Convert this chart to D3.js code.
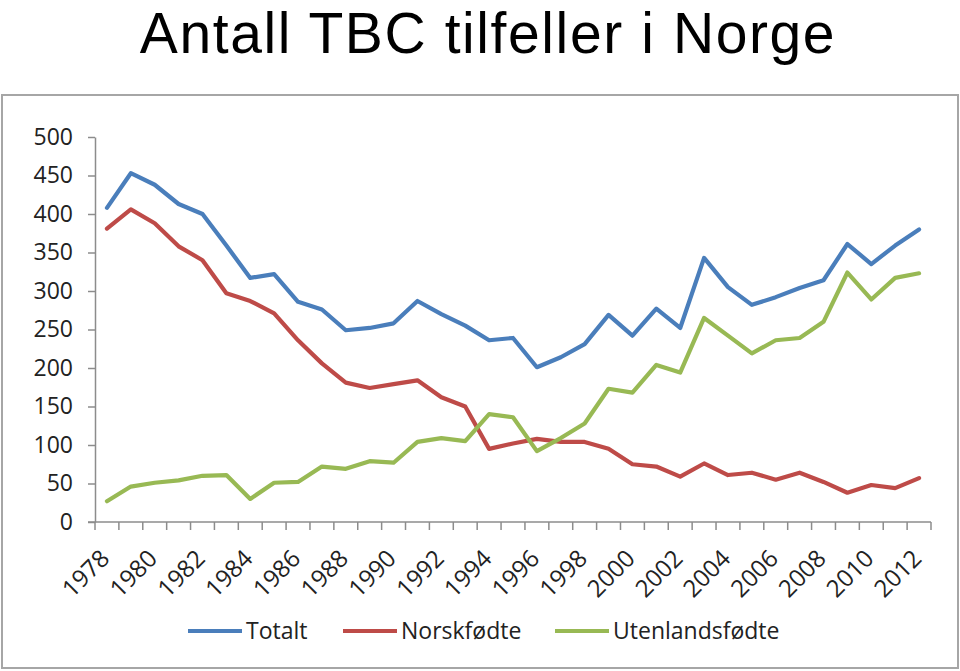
<!DOCTYPE html>
<html>
<head>
<meta charset="utf-8">
<script src="https://cdn.jsdelivr.net/npm/d3@7/dist/d3.min.js"></script>
<style>
  html, body { margin: 0; padding: 0; background: #fff; }
  svg { display: block; }
  svg text { font-family: "Open Sans", "Noto Sans", sans-serif; }
  svg text.title { font-family: "Liberation Sans", Arial, sans-serif; }
</style>
</head>
<body>
<svg id="chart" width="960" height="671"></svg>
<script>
const years = d3.range(1978, 2013).map(String);
const totalt = [408,453,438,413,400,359,317,322,286,276,249,252,258,287,270,255,236,239,201,214,231,269,242,277,252,343,305,282,292,304,314,361,335,359,380];
const norskfodte = [381,406,388,358,340,297,287,271,236,206,181,174,179,184,162,150,95,102,108,104,104,95,75,72,59,76,61,64,55,64,52,38,48,44,57];
const utenlandsfodte = [27,46,51,54,60,61,30,51,52,72,69,79,77,104,109,105,140,136,92,109,128,173,168,204,194,265,242,219,236,239,260,324,289,317,323];
const yTicks = [0,50,100,150,200,250,300,350,400,450,500];
const xTickLabels = years.filter((y, i) => i % 2 === 0);
const seriesNames = ["Totalt", "Norskfødte", "Utenlandsfødte"];
const seriesColors = ["#4a7ebb", "#be4b48", "#98b954"];

const series = [totalt, norskfodte, utenlandsfodte];

const svg = d3.select("#chart");

// Title
svg.append("text")
  .attr("class", "title")
  .attr("x", 488).attr("y", 53)
  .attr("text-anchor", "middle")
  .attr("font-size", 57)
  .attr("letter-spacing", 1.6)
  .attr("fill", "#000")
  .text("Antall TBC tilfeller i Norge");

// Chart frame
svg.append("rect")
  .attr("x", 2).attr("y", 95).attr("width", 956).attr("height", 573)
  .attr("fill", "#fff").attr("stroke", "#a6a6a6").attr("stroke-width", 2);

const x = d3.scaleBand().domain(years).range([95, 931]).padding(0);
const y = d3.scaleLinear().domain([0, 500]).range([522, 137]);

// Y axis
const yAxis = d3.axisLeft(y).tickValues(yTicks).tickSize(7).tickPadding(15).tickSizeOuter(0);
const gy = svg.append("g").attr("transform", "translate(95,0)").call(yAxis);
gy.select(".domain").attr("stroke", "#8c8c8c").attr("stroke-width", 1.5);
gy.selectAll(".tick line").attr("stroke", "#8c8c8c").attr("stroke-width", 1.5);
gy.selectAll(".tick text").attr("font-size", 23).attr("fill", "#222");

// X axis (ticks at band boundaries)
const gx = svg.append("g").attr("transform", "translate(0,522)");
gx.append("line").attr("x1", 88).attr("x2", 931).attr("y1", 0).attr("y2", 0)
  .attr("stroke", "#8c8c8c").attr("stroke-width", 1.5);
const boundaries = years.map(d => x(d)).concat([x(years[years.length - 1]) + x.bandwidth()]);
gx.selectAll("line.tk").data(boundaries).join("line").attr("class", "tk")
  .attr("x1", d => d).attr("x2", d => d).attr("y1", 0).attr("y2", 8)
  .attr("stroke", "#8c8c8c").attr("stroke-width", 1.5);
gx.selectAll("text.yr").data(xTickLabels).join("text").attr("class", "yr")
  .attr("transform", d => `translate(${x(d) + x.bandwidth() / 2 + 4},${38}) rotate(-45)`)
  .attr("text-anchor", "end")
  .attr("font-size", 24)
  .attr("fill", "#222")
  .text(d => d);

// Lines
const line = d3.line().x((d, i) => x(years[i]) + x.bandwidth() / 2).y(d => y(d));
svg.selectAll("path.series").data(series).join("path").attr("class", "series")
  .attr("d", d => line(d))
  .attr("fill", "none")
  .attr("stroke", (d, i) => seriesColors[i])
  .attr("stroke-width", 4.2)
  .attr("stroke-linejoin", "round")
  .attr("stroke-linecap", "round");

// Legend
const legendX = [188, 343, 555];
const lg = svg.append("g");
seriesNames.forEach((name, i) => {
  lg.append("line")
    .attr("x1", legendX[i]).attr("x2", legendX[i] + 54)
    .attr("y1", 631).attr("y2", 631)
    .attr("stroke", seriesColors[i]).attr("stroke-width", 4);
  lg.append("text")
    .attr("x", legendX[i] + 58).attr("y", 631)
    .attr("dy", "0.35em")
    .attr("font-size", 23)
    .attr("fill", "#222")
    .text(name);
});
</script>
</body>
</html>
